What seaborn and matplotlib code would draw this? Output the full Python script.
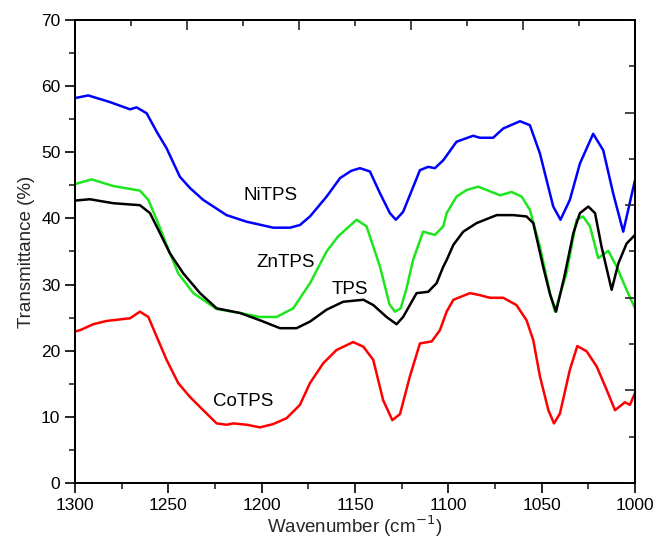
import numpy as np
import pandas as pd
import matplotlib
matplotlib.use('Agg')
import matplotlib.pyplot as plt
import seaborn as sns

wn_ni = [1300, 1292.9, 1281.3, 1270.5, 1267, 1261.6, 1256.2, 1250.9, 1243.8, 1238.4, 1231.3,
         1218.8, 1208, 1193.8, 1184.8, 1179.5, 1174.1, 1165.2, 1158, 1152, 1147.3, 1142, 1136.6,
         1131.3, 1128.1, 1124.2, 1115.2, 1110.8, 1107.2, 1102.7, 1095.6, 1086.7, 1083.1, 1076,
         1070.6, 1061.6, 1056.3, 1050.9, 1043.8, 1039.9, 1034.9, 1029.5, 1022.4, 1017, 1011.7,
         1006.3, 1000]
t_ni = [58.2, 58.6, 57.6, 56.5, 56.8, 55.9, 53.1, 50.6, 46.3, 44.6, 42.8,
        40.5, 39.5, 38.6, 38.6, 39.0, 40.3, 43.3, 46.1, 47.2, 47.6, 47.1, 43.8,
        40.8, 39.8, 41.0, 47.3, 47.8, 47.6, 48.8, 51.6, 52.5, 52.2, 52.2,
        53.6, 54.7, 54.1, 49.8, 41.8, 39.8, 42.8, 48.3, 52.8, 50.3, 43.8,
        38.0, 45.8]

wn_zn = [1300, 1291, 1279.5, 1265.2, 1260.7, 1256.2, 1250.9, 1244.7, 1236.6, 1224.1, 1211.6,
         1200.9, 1192, 1183.1, 1174.1, 1165.2, 1159, 1149.1, 1143.8, 1136.6, 1131.5, 1128.6,
         1125.5, 1122.4, 1118.9, 1113.5, 1107.2, 1102.7, 1100.9, 1095.6, 1090.2, 1084, 1079.5,
         1072.3, 1066.1, 1060.7, 1056.3, 1050.9, 1045.5, 1042.9, 1036.7, 1031.3, 1027.8, 1024.1,
         1019.7, 1014.3, 1009.8, 1004.5, 1000]
t_zn = [45.2, 45.9, 44.9, 44.2, 42.8, 39.8, 36.0, 31.7, 28.7, 26.3, 25.7,
        25.1, 25.1, 26.4, 30.2, 35.0, 37.3, 39.8, 38.8, 32.7, 27.0, 25.9,
        26.4, 29.4, 33.7, 38.0, 37.5, 38.8, 40.8, 43.3, 44.3, 44.8, 44.3,
        43.5, 44.0, 43.3, 41.3, 35.7, 28.7, 25.9, 31.7, 39.8, 40.3, 38.8,
        34.0, 35.1, 32.7, 29.2, 26.4]

wn_tps = [1300, 1292, 1279.5, 1265.2, 1259.8, 1254.5, 1249.1, 1242, 1233, 1224.1, 1211.6,
          1200.9, 1190.2, 1181.3, 1174.1, 1165.2, 1156.3, 1145.5, 1140.2, 1133.1, 1127.7,
          1124.2, 1117, 1110.8, 1106.3, 1102.7, 1100.9, 1097.3, 1092, 1084.8, 1074.1, 1065.2,
          1058.1, 1054.5, 1049.2, 1045.5, 1042.3, 1038, 1033, 1029.5, 1025, 1021.4, 1017.9,
          1012.5, 1008.9, 1004.5, 1000]
t_tps = [42.7, 42.9, 42.3, 42.0, 40.8, 37.8, 34.7, 31.7, 28.7, 26.4, 25.7,
         24.6, 23.4, 23.4, 24.4, 26.2, 27.4, 27.7, 26.9, 25.1, 24.0,
         25.1, 28.7, 28.9, 30.2, 32.7, 33.7, 36.0, 38.0, 39.3, 40.5, 40.5,
         40.3, 39.3, 32.7, 28.5, 25.9, 31.0, 37.8, 40.8, 41.8, 40.8, 35.7,
         29.2, 33.2, 36.2, 37.5]

wn_co = [1300, 1297.3, 1290.2, 1283, 1270.5, 1265.2, 1260.7, 1256.2, 1250.9, 1244.7, 1238.4,
         1231.3, 1224.1, 1218.8, 1215.2, 1208, 1200.9, 1193.8, 1186.6, 1179.5, 1174.1, 1167,
         1159.9, 1151, 1145.5, 1140.2, 1134.9, 1130, 1125.9, 1120.6, 1115.2, 1108.9, 1104.5,
         1100.9, 1097.3, 1088.4, 1083.1, 1077.7, 1070.6, 1063.5, 1058.1, 1054.5, 1050.9, 1046.4,
         1043.4, 1040.2, 1034.9, 1030.9, 1025.9, 1020.5, 1015.2, 1010.7, 1005.4, 1002.7, 1000]
t_co = [22.9, 23.1, 24.0, 24.5, 24.9, 25.9, 25.1, 22.1, 18.6, 15.1, 13.0,
        11.0, 9.0, 8.8, 9.0, 8.8, 8.4, 8.9, 9.8, 11.8, 15.1, 18.1,
        20.1, 21.3, 20.6, 18.6, 12.5, 9.5, 10.4, 16.1, 21.1, 21.4, 23.1,
        25.9, 27.7, 28.7, 28.4, 28.0, 28.0, 26.9, 24.6, 21.6, 16.1, 11.0,
        9.0, 10.5, 17.1, 20.7, 19.9, 17.6, 14.1, 11.0, 12.2, 11.8, 13.6]

series = [
    ('NiTPS', wn_ni, t_ni, '#0000ff'),
    ('ZnTPS', wn_zn, t_zn, '#1ee61e'),
    ('TPS', wn_tps, t_tps, 'black'),
    ('CoTPS', wn_co, t_co, '#ff0000'),
]

# posição dos rótulos (x, y)
label_pos = {'NiTPS': (1195, 43.5), 'ZnTPS': (1187, 33.4), 'TPS': (1153, 29.3), 'CoTPS': (1210, 12.3)}

sns.set_style('ticks')
plt.rcParams['font.family'] = ['Liberation Sans', 'DejaVu Sans']

fig = plt.figure(figsize=(6.6, 5.42), dpi=100)
ax = fig.add_axes([0.1136, 0.109, 0.8485, 0.854])

for name, wn, t, cor in series:
    df = pd.DataFrame({'wn': wn, 't': t})
    sns.lineplot(data=df, x='wn', y='t', color=cor, linewidth=1.8, ax=ax)
    x, y = label_pos[name]
    ax.text(x, y, name, fontsize=13.5, ha='center', va='center', color='black')

ax.set_xlim(1300, 1000)
ax.set_ylim(0, 70)
ax.set_xticks([1300, 1250, 1200, 1150, 1100, 1050, 1000])
ax.set_xticks(np.arange(1000, 1301, 25), minor=True)
ax.set_yticks(np.arange(0, 71, 10))
ax.set_yticks(np.arange(0, 71, 5), minor=True)
ax.tick_params(which='major', direction='out', length=7, width=1.2, labelsize=12.5, colors='black')
ax.tick_params(which='minor', direction='out', length=4, width=1.2)
ax.set_xlabel('Wavenumber (cm$^{-1}$)', fontsize=13.5, labelpad=1)
ax.set_ylabel('Transmittance (%)', fontsize=13.5, labelpad=4)
for s in ax.spines.values():
    s.set_linewidth(1.3)
    s.set_color('black')

# eixos de cima e da direita só com marcas para dentro
top = ax.twiny()
top.set_xlim(1300, 1000)
top.set_xticks(np.arange(1000, 1301, 60))
top.set_xticks(np.arange(1030, 1300, 60), minor=True)
top.tick_params(which='major', direction='in', length=7, width=1.2, labeltop=False)
top.tick_params(which='minor', direction='in', length=4, width=1.2)

right = ax.twinx()
right.set_ylim(0, 70)
right.set_yticks(np.arange(0, 71, 14))
right.set_yticks(np.arange(7, 70, 14), minor=True)
right.tick_params(which='major', direction='in', length=7, width=1.2, labelright=False)
right.tick_params(which='minor', direction='in', length=4, width=1.2)
for a in (top, right):
    for s in a.spines.values():
        s.set_linewidth(1.3)
        s.set_color('black')

fig.savefig('out.png', dpi=100)
